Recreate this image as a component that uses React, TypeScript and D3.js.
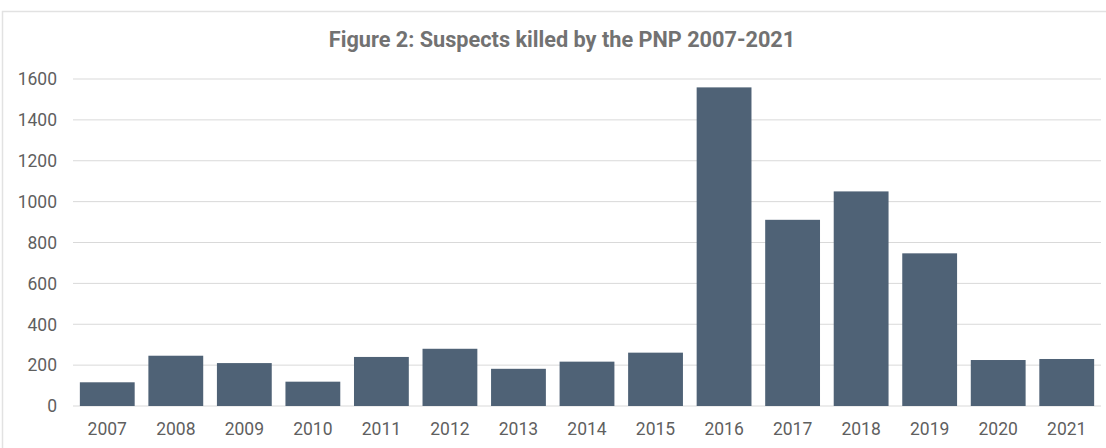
import React from "react";
import * as d3 from "d3";

const years = ["2007","2008","2009","2010","2011","2012","2013","2014","2015","2016","2017","2018","2019","2020","2021"];
const killed = [116, 246, 210, 119, 240, 280, 182, 217, 261, 1559, 911, 1050, 747, 225, 230];
const yTicks = [0, 200, 400, 600, 800, 1000, 1200, 1400, 1600];
const title = "Figure 2: Suspects killed by the PNP 2007-2021";

const W = 1106;
const H = 448;
const left = 73;
const right = 1101;
const top = 79;
const bottom = 406;

export default function App() {
  const x = d3.scaleBand<string>().domain(years).range([left, right]).paddingInner(0.2).paddingOuter(0.1);
  const y = d3.scaleLinear().domain([0, 1600]).range([bottom, top]);
  const font = "Roboto, 'Noto Sans', sans-serif";
  return (
    <svg width={W} height={H} style={{ position: "absolute", left: 0, top: 0, background: "#fff" }} fontFamily={font}>
      <rect x={2.5} y={11.5} width={W + 10} height={H} fill="#fff" stroke="#e2e2e2" strokeWidth={1.5} />
      <text x={562} y={47} textAnchor="middle" fontSize={21.7} fontWeight="bold" fill="#727272">{title}</text>
      {yTicks.map((t) => (
        <g key={t}>
          <line x1={left} x2={right} y1={y(t)} y2={y(t)} stroke="#d9d9d9" strokeWidth={1} />
          <text x={57} y={y(t)} dy="0.36em" textAnchor="end" fontSize={17.5} fill="#5f5f5f">{t}</text>
        </g>
      ))}
      {years.map((yr, i) => (
        <rect key={yr} x={x(yr)} y={y(killed[i])} width={x.bandwidth()} height={y(0) - y(killed[i])} fill="#4f6276" />
      ))}
      {years.map((yr) => (
        <text key={yr} x={(x(yr) as number) + x.bandwidth() / 2} y={435} textAnchor="middle" fontSize={17.5} fill="#5f5f5f">{yr}</text>
      ))}
    </svg>
  );
}
